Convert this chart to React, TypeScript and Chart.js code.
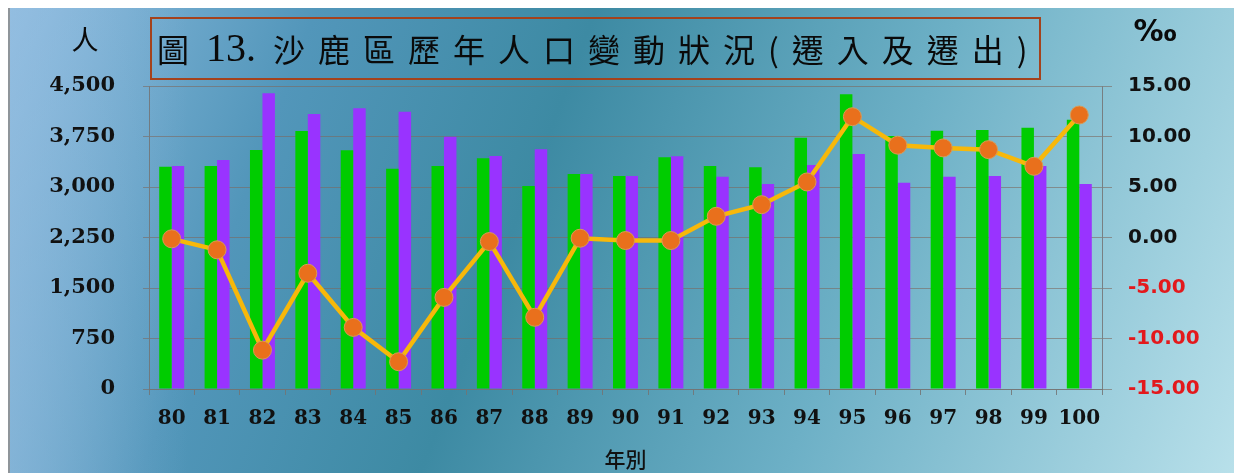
import React, { useEffect, useRef } from "react";
import { Chart, registerables } from "chart.js";

Chart.register(...registerables);

const years = ["80","81","82","83","84","85","86","87","88","89","90","91","92","93","94","95","96","97","98","99","100"];
const moveIn = [3302,3312,3550,3832,3545,3272,3312,3426,3015,3193,3163,3441,3312,3292,3733,4377,3758,3837,3847,3881,4000];
const moveOut = [3312,3401,4392,4084,4169,4119,3748,3461,3560,3193,3163,3456,3153,3045,3327,3490,3064,3153,3163,3312,3045];
const netRate = [-0.13,-1.22,-11.15,-3.54,-8.9,-12.3,-5.93,-0.4,-7.9,-0.07,-0.3,-0.3,2.1,3.25,5.5,11.96,9.14,8.87,8.7,7.05,12.13];
const leftTicks = [0,750,1500,2250,3000,3750,4500];
const rightTicks = [-15,-10,-5,0,5,10,15];
const titlePrefix = "圖";
const titleNumber = "13.";
const titleMain = "沙鹿區歷年人口變動狀況(遷入及遷出)";
const leftUnit = "人";
const rightUnit = "‰";
const xTitle = "年別";

const W = 1226;
const H = 465;

const decorPlugin = {
  id: "decor",
  beforeDraw(chart: any) {
    const ctx = chart.ctx;
    ctx.save();
    const g = ctx.createLinearGradient(0, 0, W, H);
    g.addColorStop(0, "#8fbde0");
    g.addColorStop(0.22, "#5296ba");
    g.addColorStop(0.42, "#3d8aa3");
    g.addColorStop(0.68, "#6db0c6");
    g.addColorStop(1, "#b8e0ea");
    ctx.fillStyle = g;
    ctx.fillRect(0, 0, W, H);
    const g2 = ctx.createLinearGradient(0, 0, 180, 0);
    g2.addColorStop(0, "rgba(150,190,225,0.55)");
    g2.addColorStop(1, "rgba(150,190,225,0)");
    ctx.fillStyle = g2;
    ctx.fillRect(0, 0, 180, H);
    ctx.fillStyle = "#8f959a";
    ctx.fillRect(0, 0, 2, H);
    ctx.restore();
  },
  afterDraw(chart: any) {
    const ctx = chart.ctx;
    ctx.save();
    // title box
    const bx = 143, by = 10, bw = 889, bh = 61;
    ctx.strokeStyle = "#a4421c";
    ctx.lineWidth = 2;
    ctx.strokeRect(bx, by, bw, bh);
    ctx.fillStyle = "#0a0a0a";
    ctx.textBaseline = "middle";
    ctx.textAlign = "left";
    const cy = by + bh / 2 + 1;
    ctx.font = "32px 'Noto Sans CJK TC'";
    ctx.fillText(titlePrefix, 149, cy);
    ctx.font = "40px 'Liberation Serif'";
    ctx.fillText(titleNumber, 198, cy + 1);
    ctx.font = "32px 'Noto Sans CJK TC'";
    let x = 265;
    const gap = 13;
    Array.from(titleMain).forEach((c) => {
      ctx.fillText(c, x, cy);
      x += ctx.measureText(c).width + gap;
    });
    // unit labels
    ctx.textAlign = "center";
    ctx.font = "27px 'Noto Sans CJK TC'";
    ctx.fillText(leftUnit, 77, 32);
    ctx.font = "bold 30px 'DejaVu Sans'";
    ctx.fillText(rightUnit, 1147, 25);
    ctx.restore();
  },
};

export default function App() {
  const ref = useRef<HTMLCanvasElement | null>(null);
  useEffect(() => {
    if (!ref.current) return;
    const gridColor = "rgba(125,105,95,0.6)";
    const borderColor = "rgba(115,115,115,0.85)";
    const chart = new Chart(ref.current, {
      type: "bar",
      data: {
        labels: years,
        datasets: [
          {
            type: "line",
            label: "淨遷徙率",
            data: netRate,
            yAxisID: "y1",
            borderColor: "#f7b80a",
            borderWidth: 4.5,
            pointRadius: 9,
            pointBackgroundColor: "#e9701c",
            pointBorderColor: "#d99a55",
            pointBorderWidth: 1,
            tension: 0,
            order: 0,
          } as any,
          {
            label: "遷入",
            data: moveIn,
            backgroundColor: "#00cc00",
            yAxisID: "y",
            categoryPercentage: 0.55,
            barPercentage: 1,
            order: 1,
          },
          {
            label: "遷出",
            data: moveOut,
            backgroundColor: "#9933ff",
            yAxisID: "y",
            categoryPercentage: 0.55,
            barPercentage: 1,
            order: 1,
          },
        ],
      },
      options: {
        responsive: false,
        animation: false,
        layout: { padding: { top: 78, left: 0, right: 0, bottom: 0 } },
        plugins: { legend: { display: false }, tooltip: { enabled: false }, title: { display: false } },
        scales: {
          x: {
            grid: { display: true, drawOnChartArea: false, offset: true, tickLength: 6, color: borderColor },
            border: { color: borderColor, width: 1 },
            ticks: {
              color: "#111",
              font: { family: "'DejaVu Serif'", weight: "bold", size: 20 },
              padding: 12,
              maxRotation: 0,
              autoSkip: false,
            },
            title: {
              display: true,
              text: xTitle,
              color: "#111",
              font: { family: "'Noto Sans CJK TC'", size: 21, weight: "500" },
              padding: { top: 0, bottom: 1 },
            },
            afterFit(axis: any) {
              axis.height = 84;
            },
          },
          y: {
            position: "left",
            min: 0,
            max: 4500,
            afterBuildTicks(axis: any) {
              axis.ticks = leftTicks.map((v) => ({ value: v }));
            },
            grid: { color: gridColor, tickLength: 6, lineWidth: 1 },
            border: { color: borderColor, width: 1 },
            ticks: {
              color: "#111",
              font: { family: "'DejaVu Serif'", weight: "bold", size: 21 },
              padding: 28,
              callback: (v: any) => Number(v).toLocaleString("en-US"),
            },
            afterFit(axis: any) {
              axis.width = 141;
            },
          },
          y1: {
            position: "right",
            min: -15,
            max: 15,
            afterBuildTicks(axis: any) {
              axis.ticks = rightTicks.map((v) => ({ value: v }));
            },
            grid: { drawOnChartArea: false, tickLength: 10, color: gridColor },
            border: { color: borderColor, width: 1 },
            ticks: {
              color: (c: any) => (c.tick && c.tick.value < 0 ? "#e3191c" : "#111"),
              font: { family: "'DejaVu Sans'", weight: "bold", size: 20 },
              padding: 16,
              callback: (v: any) => Number(v).toFixed(2),
            },
            afterFit(axis: any) {
              axis.width = 132;
            },
          },
        },
      },
      plugins: [decorPlugin],
    });
    return () => chart.destroy();
  }, []);
  return (
    <div style={{ width: W, height: H }}>
      <canvas ref={ref} width={W} height={H} style={{ display: "block" }} />
    </div>
  );
}
